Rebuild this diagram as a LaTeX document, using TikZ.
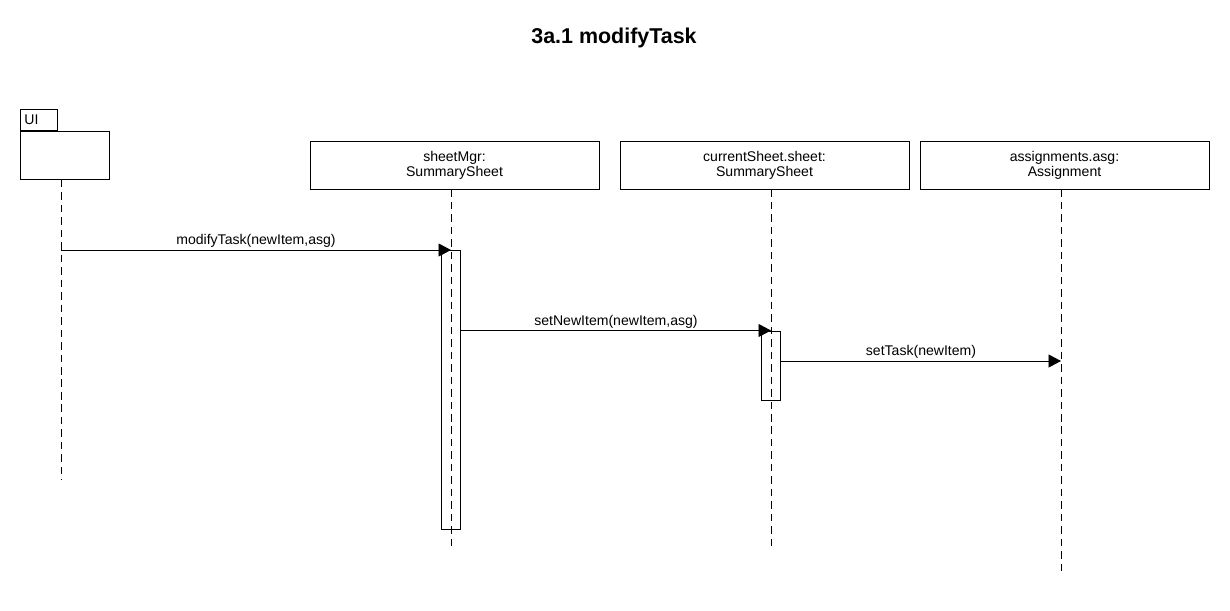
\documentclass[tikz,border=0pt]{standalone}
\usepackage{fontspec}
\setmainfont{Liberation Sans}
\usetikzlibrary{arrows.meta}
\begin{document}
\begin{tikzpicture}[x=0.02cm, y=-0.02cm, line width=0.5pt, font=\fontsize{8}{8.6}\selectfont,
	objbox/.style={draw, align=center, minimum width=5.78cm, minimum height=0.96cm, inner sep=0pt},
	actbox/.style={draw, minimum width=0.38cm, inner sep=0pt, anchor=north},
	lifeline/.style={dash pattern=on 4.3pt off 2.8pt},
	msg/.style={-{Triangle[length=7.1pt,width=7.4pt]}}]
	\useasboundingbox (0,0) rectangle (1230,610);
	\node[font=\bfseries\fontsize{12.2}{14}\selectfont] (title) at (614,38) {3a.1 modifyTask};
	% UI package
	\node[draw, anchor=north west, minimum width=1.78cm, minimum height=0.96cm] (ui) at (20,131) {};
	\node[draw, anchor=south west, minimum width=0.74cm, minimum height=0.42cm, inner sep=0pt] (uitab) at (20,131) {};
	\node[anchor=west, inner sep=0pt] (uilbl) at (24,120) {UI};
	\coordinate (ui-end) at (61,480);
	\draw[lifeline] (ui.south -| ui-end) -- (ui-end);
	% objects and lifelines
	\foreach \n/\x/\l/\y/\t in {mgr/454.5/451/549/{sheetMgr:\\SummarySheet}, cur/764.5/771/549/{currentSheet.sheet:\\SummarySheet}, asg/1064.5/1061/571/{assignments.asg:\\Assignment}}{
		\node[objbox] (\n) at (\x,165) {\t};
		\coordinate (\n-end) at (\l,\y);
		\draw[lifeline] (\n.south -| \n-end) -- (\n-end);
	}
	% activations
	\node[actbox, minimum height=5.58cm] (mgract) at (mgr-end |- 0,250) {};
	\node[actbox, minimum height=1.38cm] (curact) at (cur-end |- 0,330.5) {};
	% messages
	\coordinate (m1start) at (ui-end |- 0,250);
	\draw[msg] (m1start) -- node[above, inner sep=1pt] (m1) {modifyTask(newItem,asg)} (mgract.north);
	\draw[msg] (mgract.east |- curact.north) -- node[above, inner sep=1pt] (m2) {setNewItem(newItem,asg)} (curact.north);
	\coordinate (m3end) at (asg-end |- 0,361);
	\draw[msg] (curact.east |- m3end) -- node[above, inner sep=1pt] (m3) {setTask(newItem)} (m3end);
\end{tikzpicture}
\end{document}
